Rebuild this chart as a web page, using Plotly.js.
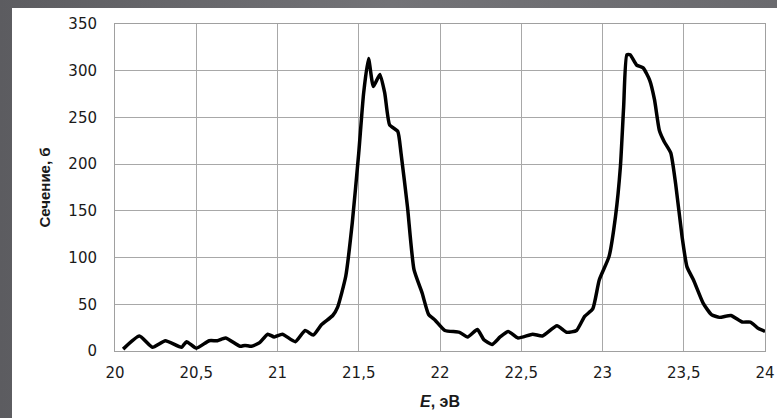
<!DOCTYPE html>
<html>
<head>
<meta charset="utf-8">
<script src="https://cdn.plot.ly/plotly-3.0.1.min.js"></script>
<style>
html,body{margin:0;padding:0;width:777px;height:418px;overflow:hidden;
background:linear-gradient(90deg,#5c5c60 0%,#737377 50%,#6a6a6e 100%);}
#chart{position:absolute;left:12px;top:8px;width:765px;height:410px;background:#ffffff;}
</style>
</head>
<body>
<div id="chart"></div>
<script>
const energy = [20.05,20.15,20.23,20.31,20.41,20.44,20.50,20.58,20.63,20.68,20.77,20.80,20.84,20.89,20.94,20.98,21.03,21.11,21.17,21.22,21.27,21.34,21.37,21.42,21.46,21.50,21.53,21.56,21.59,21.63,21.66,21.69,21.74,21.76,21.80,21.84,21.89,21.93,21.97,22.03,22.12,22.17,22.23,22.27,22.32,22.37,22.42,22.48,22.57,22.63,22.72,22.78,22.84,22.89,22.94,22.98,23.04,23.08,23.11,23.13,23.15,23.17,23.21,23.25,23.29,23.32,23.35,23.38,23.42,23.45,23.49,23.52,23.56,23.62,23.67,23.72,23.79,23.86,23.91,23.96,24.0];
const crossSection = [2,16,4,11,4,10,3,11,11,14,5,6,5,9,18,15,18,10,22,17,28,38,47,80,137,212,276,313,283,296,276,242,235,212,154,87,62,39,33,22,20,15,23,12,7,15,21,14,18,16,27,20,22,37,45,76,101,144,197,261,317,317,306,303,290,269,236,224,212,179,122,90,76,51,39,36,38,31,31,24,21];
const xTicks = [20,20.5,21,21.5,22,22.5,23,23.5,24];
const xTickLabels = ['20','20,5','21','21,5','22','22,5','23','23,5','24'];
const yTicks = [0,50,100,150,200,250,300,350];

const tickFont = {family:'DejaVu Sans, Arial, sans-serif', size:15, color:'#1a1a1a'};
const trace = {
  x: energy, y: crossSection, type:'scatter', mode:'lines',
  line:{color:'#000000', width:3.5, shape:'spline', smoothing:0.5},
  hoverinfo:'skip'
};
const layout = {
  width:765, height:410,
  margin:{l:103, r:12, t:16, b:67},
  paper_bgcolor:'#ffffff', plot_bgcolor:'#ffffff',
  showlegend:false,
  xaxis:{range:[20,24], tickvals:xTicks, ticktext:xTickLabels, showgrid:true,
         gridcolor:'#a8a8a8', gridwidth:1, showline:true, linecolor:'#a0a0a0', mirror:true,
         ticks:'', tickfont:tickFont, zeroline:false, ticklabelstandoff:8,
         title:{text:'<b><i>E</i>, эВ</b>', font:{family:'Liberation Sans, Arial, sans-serif', size:16, color:'#1a1a1a'}, standoff:14}},
  yaxis:{range:[0,350], tickvals:yTicks, showgrid:true, gridcolor:'#a8a8a8', gridwidth:1,
         showline:true, linecolor:'#a0a0a0', mirror:true, ticks:'', tickfont:tickFont,
         zeroline:false, ticklabelstandoff:14,
         title:{text:'<b>Сечение, б</b>', font:{family:'Liberation Sans Narrow, Arial Narrow, Liberation Sans, sans-serif', size:15, color:'#1a1a1a'}, standoff:14}}
};
Plotly.newPlot('chart',[trace],layout,{displayModeBar:false, staticPlot:true});
</script>
</body>
</html>
